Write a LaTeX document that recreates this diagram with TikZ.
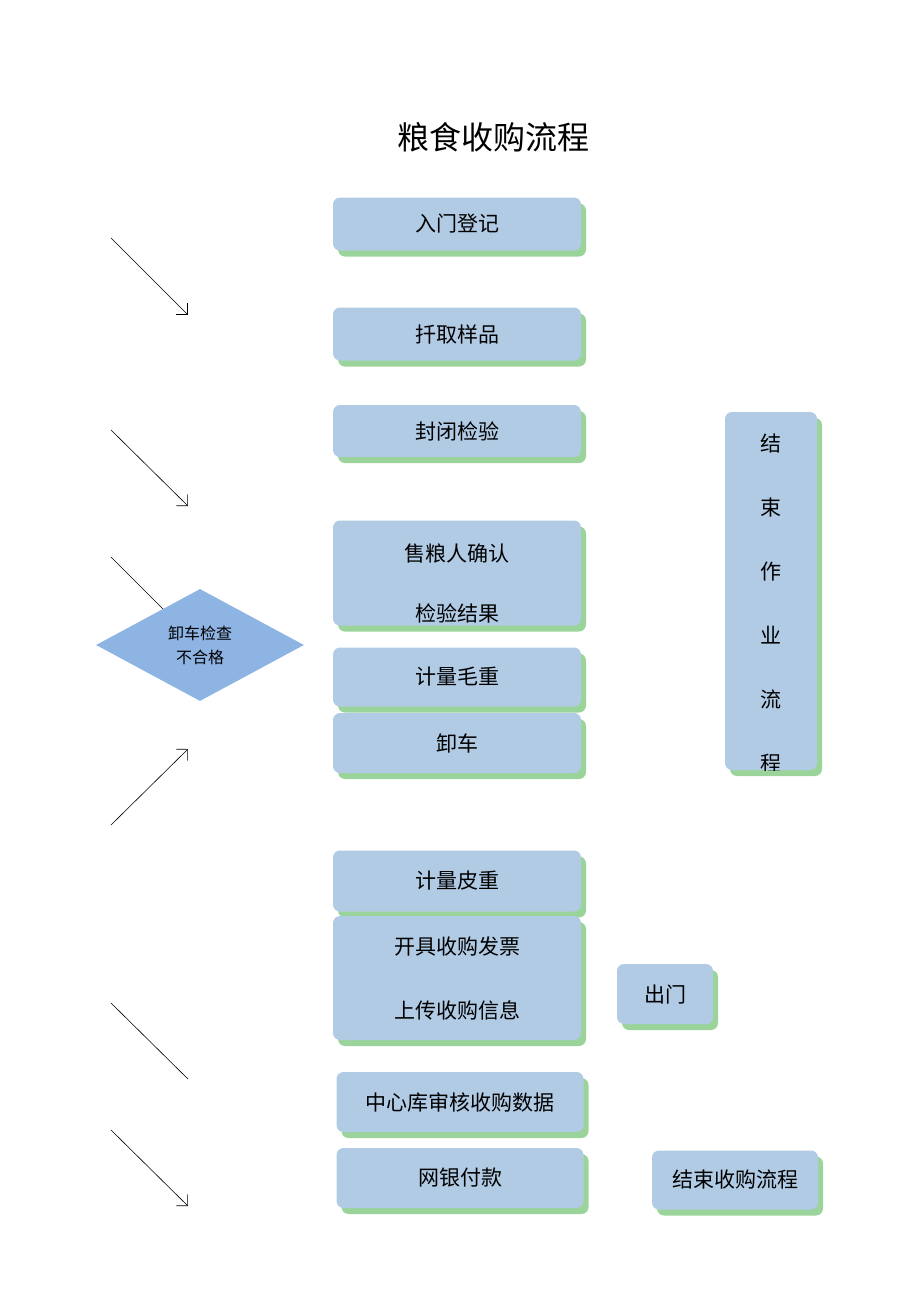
\documentclass[tikz,border=0pt]{standalone}
\usepackage{fontspec}
\setmainfont{Noto Sans CJK SC}
\definecolor{boxblue}{HTML}{B1CBE5}
\definecolor{shadowgreen}{HTML}{9BD49B}
\definecolor{diamondblue}{HTML}{8EB4E3}
\usetikzlibrary{arrows.meta,shapes.geometric}
\tikzset{
  stage/.style={fill=boxblue, rounded corners=7, font=\fontsize{21}{26}\selectfont,
    inner sep=0pt, align=center,
    preaction={fill=shadowgreen, transform canvas={shift={(5pt,-6pt)}}}},
  hint/.style={-{Straight Barb[length=8pt]}, line width=0.6pt},
  plain/.style={line width=0.6pt}
}
\begin{document}
\begin{tikzpicture}[x=1pt,y=-1pt]
    \useasboundingbox (0,0) rectangle (920,1302);

    % Title
    \node[font=\fontsize{32}{36}\selectfont] (title) at (493,137) {粮食收购流程};

    % Main column
    \node[stage, minimum width=248, minimum height=53] (entry) at (457,224) {入门登记};
    \node[stage, minimum width=248, minimum height=53] (sample) at (457,334) {扦取样品};
    \node[stage, minimum width=248, minimum height=52] (seal) at (457,431) {封闭检验};
    \node[stage, minimum width=248, minimum height=105] (confirm) at (457,573) {};
    \begin{scope}
        \clip[rounded corners=7] (333,521) rectangle (581,626);
        \node[font=\fontsize{21}{60}\selectfont, align=center, anchor=north] (confirmtxt) at (457,540) {售粮人确认\\检验结果};
    \end{scope}
    \node[stage, minimum width=248, minimum height=59] (gross) at (457,677) {计量毛重};
    \node[stage, minimum width=248, minimum height=60] (unload) at (457,743) {卸车};
    \node[stage, minimum width=248, minimum height=61] (tare) at (457,881) {计量皮重};
    \node[stage, minimum width=248, minimum height=124, font=\fontsize{21}{64}\selectfont] (invoice) at (457,978) {开具收购发票\\上传收购信息};
    \node[stage, minimum width=247, minimum height=60] (audit) at (460,1102) {中心库审核收购数据};
    \node[stage, minimum width=247, minimum height=60] (pay) at (460,1178) {网银付款};

    % Side boxes
    \node[stage, minimum width=96, minimum height=60] (exit) at (665,994) {出门};
    \node[stage, minimum width=166, minimum height=59] (finish) at (735,1180) {结束收购流程};
    \node[stage, minimum width=92, minimum height=358] (endwork) at (771,591) {};
    \begin{scope}
        \clip[rounded corners=7] (725,412) rectangle (817,770);
        \node[font=\fontsize{21}{64}\selectfont, align=center, anchor=north] (endtxt) at (771,430) {结\\束\\作\\业\\流\\程};
    \end{scope}

    % Diagram arrows on the left
    \coordinate (a1) at (111,238); \coordinate (b1) at (188,315);
    \coordinate (a2) at (111,430); \coordinate (b2) at (188,506);
    \coordinate (a3) at (111,557); \coordinate (b3) at (165,611);
    \coordinate (a4) at (111,825); \coordinate (b4) at (188,749);
    \coordinate (a5) at (111,1003); \coordinate (b5) at (188,1079);
    \coordinate (a6) at (111,1130); \coordinate (b6) at (188,1206);
    \draw[hint] (a1) -- (b1);
    \draw[hint] (a2) -- (b2);
    \draw[plain] (a3) -- (b3);
    \draw[hint] (a4) -- (b4);
    \draw[plain] (a5) -- (b5);
    \draw[hint] (a6) -- (b6);

    % Check diamond
    \node[diamond, fill=diamondblue, minimum width=208, minimum height=112, aspect=1.86,
        inner sep=0pt, font=\fontsize{16}{24}\selectfont, align=center] (check) at (200,645) {卸车检查\\不合格};
\end{tikzpicture}
\end{document}
